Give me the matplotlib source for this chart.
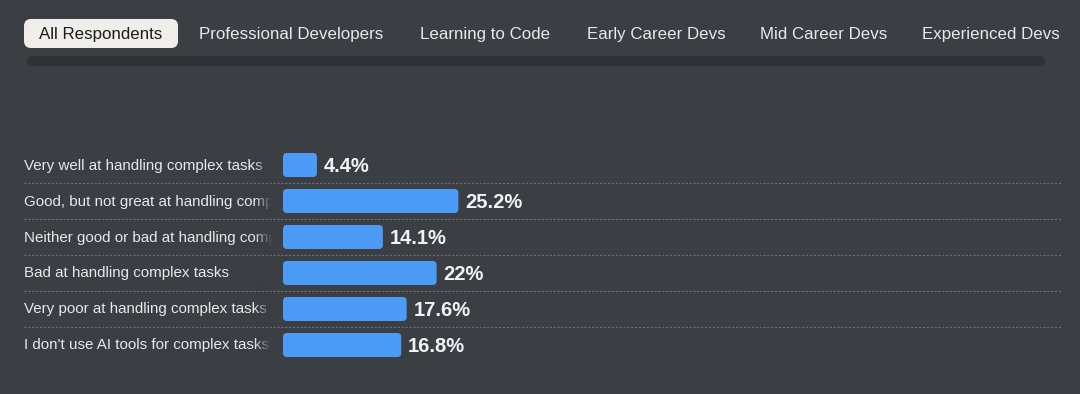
import numpy as np
import matplotlib.pyplot as plt
from matplotlib.patches import FancyBboxPatch, Rectangle

# data
tabs = ['All Respondents', 'Professional Developers', 'Learning to Code',
        'Early Career Devs', 'Mid Career Devs', 'Experienced Devs']
categories = ['Very well at handling complex tasks',
              'Good, but not great at handling complex tasks',
              'Neither good or bad at handling complex tasks',
              'Bad at handling complex tasks',
              'Very poor at handling complex tasks',
              "I don't use AI tools for complex tasks"]
values = [4.4, 25.2, 14.1, 22.0, 17.6, 16.8]
value_labels = ['4.4%', '25.2%', '14.1%', '22%', '17.6%', '16.8%']

BG = '#3b3e43'
BAR = '#4c9cf7'
TXT = '#e8e8ea'
FONT = ['Liberation Sans', 'DejaVu Sans']

plt.rcParams['font.family'] = FONT

W, H = 1080, 394
fig = plt.figure(figsize=(W / 100, H / 100), dpi=100)
fig.patch.set_facecolor(BG)

# full-figure axes in pixel units for the page chrome
bg = fig.add_axes([0, 0, 1, 1])
bg.set_xlim(0, W)
bg.set_ylim(H, 0)
bg.axis('off')

# tab strip
tab_x = [39, 199, 420, 587, 760, 922]
bg.add_patch(FancyBboxPatch((24, 19), 154, 29, boxstyle='round,pad=0,rounding_size=7',
                            fc='#efeeea', ec='none', zorder=1))
for i, (t, x) in enumerate(zip(tabs, tab_x)):
    bg.text(x, 34.5, t, fontsize=12.2, color='#1d1d1f' if i == 0 else TXT,
            ha='left', va='center', zorder=2)
# scroll track
bg.add_patch(FancyBboxPatch((27, 56), 1018, 10, boxstyle='round,pad=0,rounding_size=5',
                            fc='#2f3236', ec='none', zorder=1))

# bar axes: 6.8 px per percent, rows 36 px apart
px_per = 6.8
row_h = 36
x0_px, x1_px = 283, 1063
top_px = 147
n = len(values)
min_w = 4 / px_per  # bars always show a small stub
ax = fig.add_axes([x0_px / W, 1 - (top_px + n * row_h) / H,
                   (x1_px - x0_px) / W, n * row_h / H])
ax.set_xlim(-min_w, -min_w + (x1_px - x0_px) / px_per)
ax.set_ylim(n - 0.5, -0.5)
ax.axis('off')
ax.patch.set_alpha(0)

bar_h = 24 / row_h
aspect = px_per / row_h
for i, (v, lab) in enumerate(zip(values, value_labels)):
    ax.add_patch(FancyBboxPatch((-min_w, i - bar_h / 2), v + min_w, bar_h,
                                boxstyle='round,pad=0,rounding_size=%f' % (4 / px_per),
                                mutation_aspect=aspect, fc=BAR, ec='none'))
    ax.text(v + 7 / px_per, i + 0.035, lab, fontsize=14.5, fontweight='bold',
            color='#f2f2f4', ha='left', va='center')

# dashed separators between rows
for i in range(n - 1):
    y = top_px + (i + 1) * row_h
    bg.plot([24, 1062], [y, y], color='#6b6e73', lw=0.8, ls=(0, (2, 1.5)), zorder=4)

# category labels, clipped and faded
clip = Rectangle((0, 0), 272, H, transform=bg.transData)
for i, c in enumerate(categories):
    y = top_px + row_h / 2 + i * row_h
    t = bg.text(24, y + 0.5, c, fontsize=10.9, color=TXT, ha='left', va='center',
                zorder=2, clip_on=True)
    t.set_clip_path(clip)

rgba = np.zeros((1, 64, 4))
rgba[..., :3] = [int(BG[k:k + 2], 16) / 255 for k in (1, 3, 5)]
rgba[..., 3] = np.linspace(0, 1, 64)
bg.imshow(rgba, extent=(254, 272, top_px + n * row_h - 6, top_px + 6),
          aspect='auto', zorder=3, interpolation='bilinear')
bg.set_xlim(0, W)
bg.set_ylim(H, 0)

fig.savefig('out.png', dpi=100, facecolor=BG)
